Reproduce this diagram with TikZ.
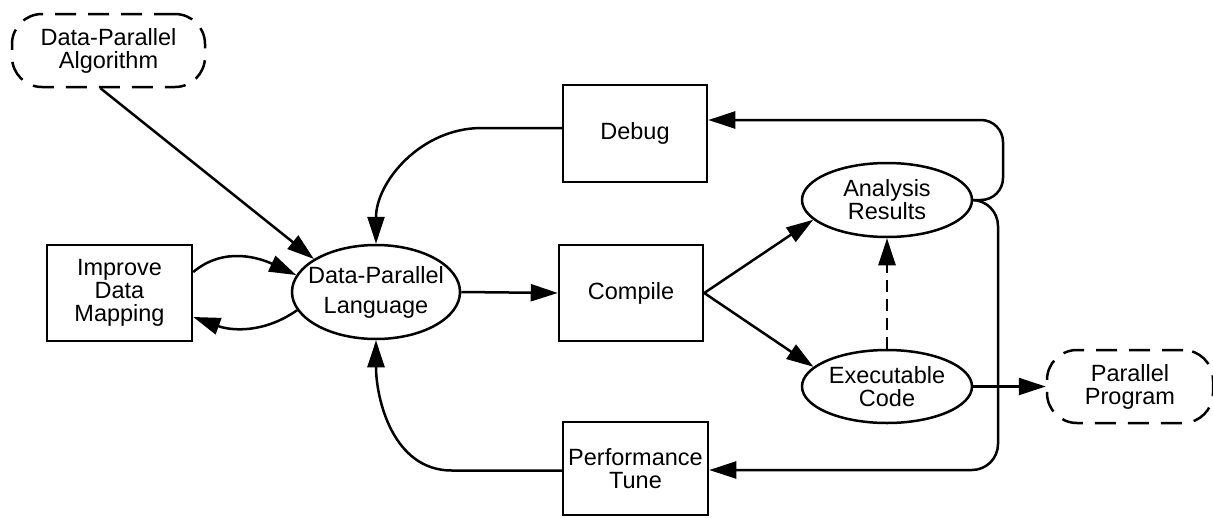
\documentclass[tikz,border=0pt]{standalone}
\usepackage{fontspec}
\setmainfont{Liberation Sans}
\usetikzlibrary{arrows.meta,shapes.geometric,calc}
\begin{document}
\begin{tikzpicture}[x=1pt,y=1pt,
  txt/.style={font=\fontsize{23.5}{23}\selectfont, align=center, inner sep=0pt},
  box/.style={txt, draw, rectangle, line width=2.5pt},
  oval/.style={draw, ellipse, inner sep=0pt, line width=2.5pt},
  cloudbox/.style={txt, draw, rectangle, line width=2.5pt, dash pattern=on 21pt off 12pt, rounded corners=30pt},
  arr/.style={line width=2.5pt, -{Triangle[length=27pt,width=17pt]}},
  dasharr/.style={arr, dash pattern=on 12pt off 7pt}
]
\useasboundingbox (0,0) rectangle (1213,-517);

\node[cloudbox, minimum width=193pt, minimum height=73pt] (alg) at (108.5,-50.5) {Data-Parallel\\Algorithm};
\node[box, minimum width=144pt, minimum height=97pt] (debug) at (635,-133.5) {Debug};
\node[box, minimum width=145pt, minimum height=96pt] (improve) at (119.5,-293) {Improve\\Data\\Mapping};
\node[oval, minimum width=168pt, minimum height=94pt,
  label={[txt, font=\fontsize{23.5}{30}\selectfont]center:{Data-Parallel\\Language}}] (lang) at (376,-292) {};
\node[box, minimum width=144pt, minimum height=96pt] (compile) at (631,-293) {Compile};
\node[oval, minimum width=170pt, minimum height=74pt,
  label={[txt]center:{Analysis\\Results}}] (analysis) at (887,-200) {};
\node[oval, minimum width=170pt, minimum height=73pt,
  label={[txt]center:{Executable\\Code}}] (exec) at (887,-386.5) {};
\node[cloudbox, minimum width=166pt, minimum height=73pt] (par) at (1130,-386.5) {Parallel\\Program};
\node[box, minimum width=145pt, minimum height=93pt] (perf) at (635.5,-468.5) {Performance\\Tune};

\coordinate (rt) at (1003,-120);
\coordinate (rb) at (998,-470);

\draw[arr] ([xshift=-8pt]alg.south) -- (lang.152);
\draw[arr] ([yshift=5.5pt]debug.west) -- ++(-80,0) to[out=180,in=90] (lang.north);
\draw[arr] ([yshift=-2pt]perf.west) -- ++(-110,0) to[out=180,in=-90] (lang.south);
\draw[arr] ([yshift=21pt]improve.east) to[out=40,in=155] (lang.168);
\draw[arr] (lang.193) to[out=215,in=-20] ([yshift=-24pt]improve.east);
\draw[arr] (lang.east) -- (compile.west);
\draw[arr] (compile.east) -- (analysis.195);
\draw[arr] (compile.east) -- (exec.165);
\draw[dasharr] (exec.north) -- (analysis.south);
\draw[arr, rounded corners=22pt] (analysis.east) -| (rt) -- (debug.east |- rt);
\draw[arr, rounded corners=26pt] (analysis.east) -| (rb) -- (perf.east |- rb);
\draw[arr] (exec.east) -- (par.west);
\end{tikzpicture}
\end{document}
